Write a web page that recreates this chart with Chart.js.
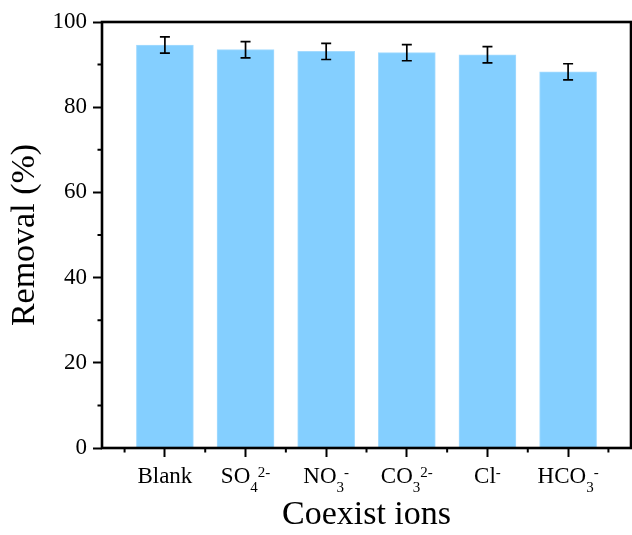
<!DOCTYPE html>
<html>
<head>
<meta charset="utf-8">
<script src="https://cdn.jsdelivr.net/npm/chart.js@4.4.0/dist/chart.umd.min.js"></script>
<style>
  html, body { margin: 0; padding: 0; background: #fff; }
</style>
</head>
<body>
<canvas id="myChart" width="632" height="535"></canvas>
<script>
// x categories: main text, subscript, superscript
const ionMain = ["Blank", "SO", "NO", "CO", "Cl", "HCO"];
const ionSub = ["", "4", "3", "3", "", "3"];
const ionSup = ["", "2-", "-", "2-", "-", "-"];
// removal (%) with error
const removal = [94.6, 93.5, 93.1, 92.8, 92.3, 88.3];
const removalErr = [1.9, 1.9, 1.9, 1.9, 1.9, 1.9];
const yMinorTicks = [10, 30, 50, 70, 90];
const xMinorTicks = [-0.5, 0.5, 1.5, 2.5, 3.5, 4.5, 5.5];

const serif = "'Liberation Serif', 'Times New Roman', serif";

// error bars
const errorBars = {
  id: "errorBars",
  afterDatasetsDraw(chart) {
    const { ctx, scales: { x, y } } = chart;
    ctx.save();
    ctx.strokeStyle = "#000";
    ctx.lineWidth = 1.7;
    removal.forEach((v, i) => {
      const px = x.getPixelForValue(i);
      const top = y.getPixelForValue(v + removalErr[i]);
      const bot = y.getPixelForValue(v - removalErr[i]);
      ctx.beginPath();
      ctx.moveTo(px, top);
      ctx.lineTo(px, bot);
      ctx.moveTo(px - 5, top);
      ctx.lineTo(px + 5, top);
      ctx.moveTo(px - 5, bot);
      ctx.lineTo(px + 5, bot);
      ctx.stroke();
    });
    ctx.restore();
  },
};

// frame, minor ticks, x labels with sub/superscripts
const frameAndLabels = {
  id: "frameAndLabels",
  afterDraw(chart) {
    const { ctx, chartArea: a, scales: { x, y } } = chart;
    ctx.save();
    ctx.strokeStyle = "#000";
    ctx.lineWidth = 2;
    ctx.beginPath();
    yMinorTicks.forEach((v) => {
      const py = y.getPixelForValue(v);
      ctx.moveTo(a.left, py);
      ctx.lineTo(a.left - 4.5, py);
    });
    xMinorTicks.forEach((v) => {
      const px = x.getPixelForValue(v);
      ctx.moveTo(px, a.bottom);
      ctx.lineTo(px, a.bottom + 4.5);
    });
    ctx.stroke();

    ctx.lineWidth = 2.6;
    ctx.strokeRect(a.left, a.top, a.right - a.left, a.bottom - a.top);

    ctx.fillStyle = "#000";
    ctx.textBaseline = "alphabetic";
    ctx.textAlign = "left";
    const mainFont = "23px " + serif;
    const smallFont = "15px " + serif;
    ionMain.forEach((m, i) => {
      ctx.font = mainFont;
      const wm = ctx.measureText(m).width;
      ctx.font = smallFont;
      const ws = ctx.measureText(ionSub[i]).width;
      const wp = ctx.measureText(ionSup[i]).width;
      let px = x.getPixelForValue(i) - (wm + ws + wp) / 2;
      ctx.font = mainFont;
      ctx.fillText(m, px, 483);
      px += wm;
      ctx.font = smallFont;
      if (ionSub[i]) ctx.fillText(ionSub[i], px, 492);
      px += ws;
      if (ionSup[i]) ctx.fillText(ionSup[i], px, 477);
    });
    ctx.restore();
  },
};

const ctx = document.getElementById("myChart");
new Chart(ctx, {
  type: "bar",
  data: {
    datasets: [
      {
        data: removal.map((v, i) => ({ x: i, y: v })),
        backgroundColor: "#84CFFF",
        borderColor: "#A4DBFF",
        borderWidth: 1,
        barThickness: 57,
      },
    ],
  },
  options: {
    responsive: false,
    animation: false,
    layout: { padding: { top: 22, right: 1, left: 0, bottom: 0 } },
    plugins: {
      legend: { display: false },
      tooltip: { enabled: false },
    },
    scales: {
      x: {
        type: "linear",
        offset: false,
        min: -0.78,
        max: 5.78,
        afterBuildTicks: (scale) => {
          scale.ticks = ionMain.map((_, i) => ({ value: i }));
        },
        afterFit: (scale) => {
          scale.height = 87;
        },
        ticks: { display: false },
        grid: {
          offset: false,
          drawOnChartArea: false,
          tickLength: 9,
          tickWidth: 2,
          tickColor: "#000",
        },
        border: { display: false },
        title: {
          display: true,
          text: "Coexist ions",
          color: "#000",
          font: { family: serif, size: 34, lineHeight: 1 },
          padding: { top: 0, bottom: 2.5 },
        },
      },
      y: {
        min: 0,
        max: 100,
        afterFit: (scale) => {
          scale.width = 102;
        },
        ticks: {
          stepSize: 20,
          color: "#000",
          padding: 6,
          font: { family: serif, size: 23 },
        },
        grid: {
          drawOnChartArea: false,
          tickLength: 9,
          tickWidth: 2,
          tickColor: "#000",
        },
        border: { display: false },
        title: {
          display: true,
          text: "Removal (%)",
          color: "#000",
          font: { family: serif, size: 34, lineHeight: 1 },
          padding: { top: 8.5, bottom: 0 },
        },
      },
    },
  },
  plugins: [errorBars, frameAndLabels],
});
</script>
</body>
</html>
